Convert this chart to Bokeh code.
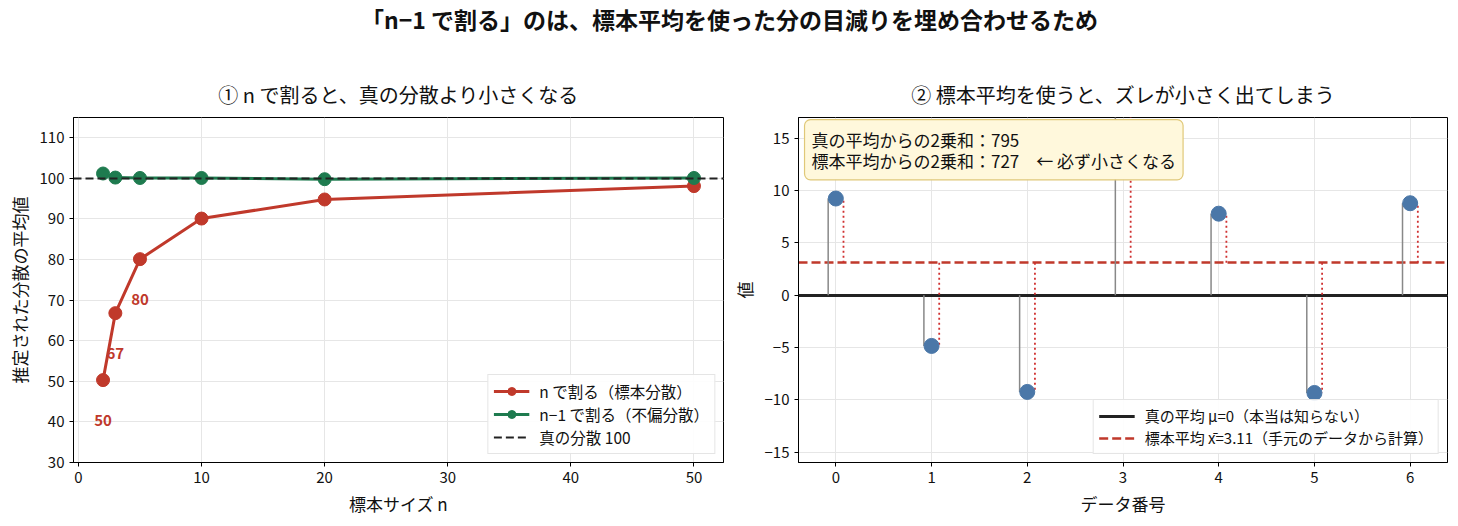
from bokeh.plotting import figure
from bokeh.layouts import column, row
from bokeh.models import Range1d, Label, FixedTicker
from bokeh.core.properties import value
from bokeh.embed import file_html
from bokeh.resources import INLINE

FONT = "Noto Sans CJK JP"
RED = "#c0392b"
GREEN = "#1e7b4f"
BLUE = "#4a77a8"

# left panel: mean of estimated variance per sample size
sizes = [2, 3, 5, 10, 20, 50]
var_n = [50.3, 66.8, 80.1, 90.1, 94.8, 98.1]
var_n1 = [101.2, 100.2, 100.1, 100.1, 99.8, 100.1]
true_var = 100
labelled = [0, 1, 2]

# right panel: one small sample
idx = [0, 1, 2, 3, 4, 5, 6]
vals = [9.25, -4.85, -9.25, 19.35, 7.8, -9.35, 8.8]
true_mean = 0

sample_mean = sum(vals) / len(vals)
ss_true = sum((v - true_mean) ** 2 for v in vals)
ss_sample = sum((v - sample_mean) ** 2 for v in vals)


def style(p):
    p.outline_line_color = "black"
    p.outline_line_width = 1
    p.outline_line_alpha = 1
    p.title.text_font = FONT
    p.title.text_font_size = "20px"
    p.title.text_font_style = "normal"
    p.title.align = "center"
    p.title.text_color = "#111"
    p.title.standoff = 17
    for ax in p.axis:
        ax.axis_line_color = "black"
        ax.major_tick_out = 4
        ax.major_tick_in = 0
        ax.minor_tick_out = 0
        ax.minor_tick_in = 0
        ax.major_label_text_font = FONT
        ax.major_label_text_font_size = "15px"
        ax.major_label_text_color = "#111"
        ax.axis_label_text_font = FONT
        ax.axis_label_text_font_size = "17px"
        ax.axis_label_text_font_style = "normal"
        ax.axis_label_text_color = "#111"
    p.grid.grid_line_color = "#e6e6e6"
    p.grid.grid_line_width = 1


def style_legend(lg, size):
    lg.label_text_font = FONT
    lg.label_text_font_size = size
    lg.label_text_color = "#111"
    lg.border_line_color = "#cccccc"
    lg.background_fill_alpha = 0.9
    lg.glyph_width = 36
    lg.label_standoff = 10
    lg.spacing = 1
    lg.padding = 5
    lg.margin = 8


top = figure(width=1458, height=60, toolbar_location=None, output_backend="svg",
             x_range=Range1d(0, 1), y_range=Range1d(0, 1), min_border=0)
top.axis.visible = False
top.grid.visible = False
top.outline_line_color = None
top.text(x=[0.5], y=[0.7], text=["「n−1 で割る」のは、標本平均を使った分の目減りを埋め合わせるため"],
         text_font=value(FONT), text_font_size="23px", text_font_style="bold",
         text_align="center", text_baseline="middle", text_color="#111")

p1 = figure(width=728, height=466, toolbar_location=None, output_backend="svg",
            x_range=Range1d(-0.4, 52.4), y_range=Range1d(30, 115),
            min_border_left=73, min_border_right=5, min_border_top=57, min_border_bottom=64,
            title="① n で割ると、真の分散より小さくなる",
            x_axis_label="標本サイズ n", y_axis_label="推定された分散の平均値")
p1.line(sizes, var_n, line_color=RED, line_width=3, legend_label="n で割る（標本分散）")
p1.scatter(sizes, var_n, size=13, color=RED, legend_label="n で割る（標本分散）")
p1.line(sizes, var_n1, line_color=GREEN, line_width=3, legend_label="n−1 で割る（不偏分散）")
p1.scatter(sizes, var_n1, size=13, color=GREEN, legend_label="n−1 で割る（不偏分散）")
p1.hspan(y=[true_var], line_color="#222222", line_width=2.2, line_dash="8 4",
         legend_label="真の分散 100")
p1.text(x=[sizes[i] for i in labelled], y=[var_n[i] - 10 for i in labelled],
        text=[f"{var_n[i]:.0f}" for i in labelled],
        text_font=value(FONT), text_font_size="15px", text_font_style="bold",
        text_color=RED, text_align="center", text_baseline="middle")
p1.xaxis.ticker = FixedTicker(ticks=[0, 10, 20, 30, 40, 50])
p1.yaxis.ticker = FixedTicker(ticks=[30, 40, 50, 60, 70, 80, 90, 100, 110])
style(p1)
p1.legend.location = "bottom_right"
style_legend(p1.legend[0], "15.5px")

p2 = figure(width=730, height=466, toolbar_location=None, output_backend="svg",
            x_range=Range1d(-0.39, 6.39), y_range=Range1d(-16, 17),
            min_border_left=69, min_border_right=11, min_border_top=57, min_border_bottom=64,
            title="② 標本平均を使うと、ズレが小さく出てしまう",
            x_axis_label="データ番号", y_axis_label="値")
p2.hspan(y=[true_mean], line_color="#222222", line_width=2.8,
         legend_label="真の平均 μ=0（本当は知らない）")
p2.hspan(y=[sample_mean], line_color=RED, line_width=2.5, line_dash="9 4",
         legend_label=f"標本平均 x̄={sample_mean:.2f}（手元のデータから計算）")
p2.segment(x0=[i - 0.08 for i in idx], y0=[true_mean] * len(idx),
           x1=[i - 0.08 for i in idx], y1=vals, line_color="#888888", line_width=1.5)
p2.segment(x0=[i + 0.08 for i in idx], y0=[sample_mean] * len(idx),
           x1=[i + 0.08 for i in idx], y1=vals, line_color="#d03030", line_width=1.8,
           line_dash="2 3")
p2.scatter(idx, vals, size=15, color=BLUE)
p2.xaxis.ticker = FixedTicker(ticks=idx)
p2.yaxis.ticker = FixedTicker(ticks=[-15, -10, -5, 0, 5, 10, 15])
style(p2)
p2.legend.location = "bottom_right"
style_legend(p2.legend[0], "15px")

note = Label(x=-0.327, y=16.8, x_units="data", y_units="data",
             text=f"真の平均からの2乗和：{ss_true:.0f}\n標本平均からの2乗和：{ss_sample:.0f}　← 必ず小さくなる",
             text_font=FONT, text_font_size="17px", text_color="#111",
             text_align="left", text_baseline="top", text_line_height=0.85,
             background_fill_color="#fff8dc", background_fill_alpha=1,
             border_line_color="#e0c878", border_line_width=1.2,
             border_radius=6, padding=7)
p2.add_layout(note)

layout = column(top, row(p1, p2))
open("out.html", "w").write(file_html(layout, INLINE))
